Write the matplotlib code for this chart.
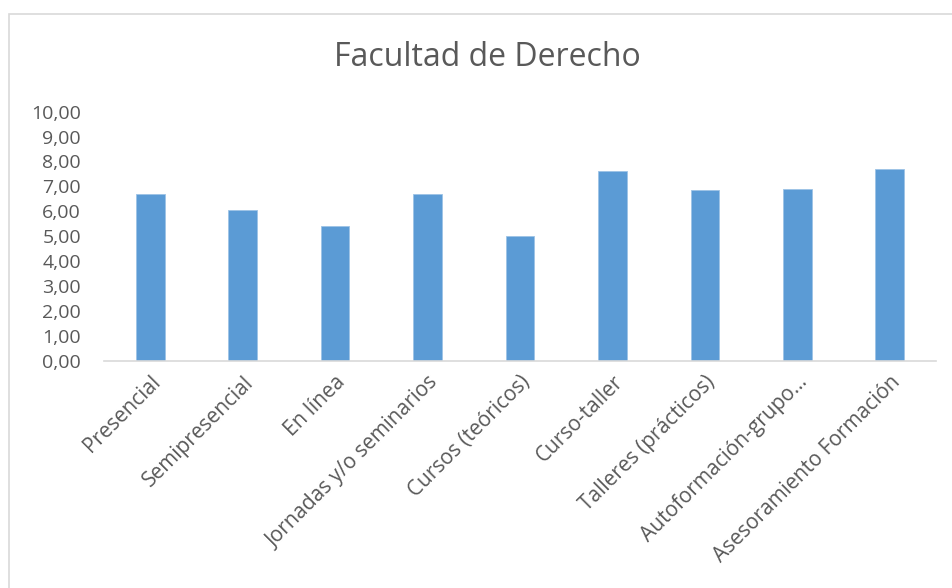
import matplotlib
matplotlib.use('Agg')
import matplotlib.pyplot as plt
from matplotlib.patches import Rectangle
from matplotlib.ticker import FuncFormatter

categories = ['Presencial', 'Semipresencial', 'En línea', 'Jornadas y/o seminarios',
              'Cursos (teóricos)', 'Curso-taller', 'Talleres (prácticos)',
              'Autoformación-grupo...', 'Asesoramiento Formación']
values = [6.71, 6.05, 5.41, 6.69, 5.00, 7.62, 6.84, 6.88, 7.69]
yticks = list(range(0, 11))

text_color = '#595959'
bar_color = '#5B9BD5'

plt.rcParams['font.family'] = ['Open Sans', 'DejaVu Sans']

fig = plt.figure(figsize=(9.53, 5.88), dpi=100)
ax = fig.add_axes([104 / 953, 1 - 360.7 / 588, (936 - 104) / 953, (360.7 - 111.7) / 588])

# chart outline like the spreadsheet frame
fig.patches.append(Rectangle((9 / 953, -0.1), 1.2, 1 - 14 / 588 + 0.1,
                             transform=fig.transFigure, fill=False,
                             edgecolor='#D9D9D9', linewidth=1.2))

x = range(len(categories))
ax.bar(x, values, width=0.31, color=bar_color, edgecolor='#9DC3E6', linewidth=0.6)

ax.set_xlim(-0.5, len(categories) - 0.5)
ax.set_ylim(0, 10)
ax.set_yticks(yticks)
ax.yaxis.set_major_formatter(FuncFormatter(lambda v, p: '{:.2f}'.format(v).replace('.', ',')))
ax.set_xticks(list(x))
ax.set_xticklabels(categories, rotation=45, ha='right', rotation_mode='anchor')

for s in ['top', 'right', 'left']:
    ax.spines[s].set_visible(False)
ax.spines['bottom'].set_color('#D9D9D9')
ax.spines['bottom'].set_linewidth(1.2)
ax.tick_params(axis='both', length=0, colors=text_color)
ax.tick_params(axis='y', pad=16.5, labelsize=14)
ax.tick_params(axis='x', pad=8, labelsize=15)

fig.text(487 / 953, 1 - 57 / 588, 'Facultad de Derecho', ha='center', va='center',
         fontsize=23, color=text_color)

fig.savefig('out.png', dpi=100)
